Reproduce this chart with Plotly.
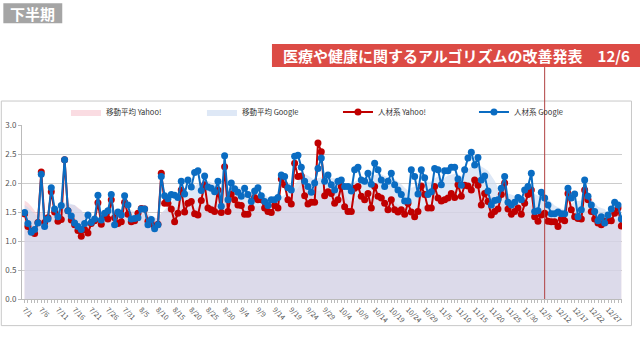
import plotly.graph_objects as go

# ---- categories (daily dates, a few days missing in the source) ----
month_lengths = [(7, 31), (8, 31), (9, 30), (10, 31), (11, 30), (12, 31)]
skipped_dates = ["11/3", "11/4", "12/9", "12/10"]
dates = [f"{m}/{d}" for m, n in month_lengths for d in range(1, n + 1)
         if f"{m}/{d}" not in skipped_dates]

tick_labels = ["7/1", "7/6", "7/11", "7/16", "7/21", "7/26", "7/31", "8/5", "8/10",
               "8/15", "8/20", "8/25", "8/30", "9/4", "9/9", "9/14", "9/19", "9/24",
               "9/29", "10/4", "10/9", "10/14", "10/19", "10/24", "10/29", "11/5",
               "11/10", "11/15", "11/20", "11/25", "11/30", "12/5", "12/12", "12/17",
               "12/22", "12/27"]

event_date = "12/6"
event_text = "医療や健康に関するアルゴリズムの改善発表　12/6"
period_label = "下半期"

# ---- series values ----
yahoo = [1.47, 1.25, 1.17, 1.13, 1.32, 2.19, 1.32, 1.40, 1.85, 1.50,
         1.34, 1.37, 2.40, 1.52, 1.36, 1.28, 1.18, 1.08, 1.20, 1.14,
         1.30, 1.35, 1.66, 1.29, 1.42, 1.38, 1.71, 1.40, 1.30, 1.33,
         1.67, 1.46, 1.33, 1.35, 1.48, 1.56, 1.55, 1.34, 1.30, 1.25,
         1.29, 2.17, 1.65, 1.65, 1.55, 1.33, 1.48, 1.88, 1.50, 1.65,
         1.68, 1.47, 1.45, 1.70, 1.97, 1.57, 1.54, 1.51, 1.88, 1.49,
         2.28, 1.51, 1.81, 1.71, 1.62, 1.61, 1.46, 1.46, 1.57, 1.75,
         1.71, 1.71, 1.57, 1.51, 1.49, 1.61, 1.57, 2.07, 1.97, 1.71,
         1.64, 2.34, 2.11, 2.12, 1.78, 1.64, 1.67, 1.67, 2.69, 2.54,
         1.78, 1.85, 1.82, 1.65, 1.71, 1.94, 1.59, 1.51, 1.51, 1.91,
         1.94, 1.77, 1.71, 1.82, 1.57, 1.94, 1.77, 1.74, 1.65, 1.54,
         1.71, 1.54, 1.50, 1.54, 1.46, 1.65, 1.50, 1.42, 1.51, 1.95,
         1.80, 1.57, 1.57, 1.94, 1.74, 1.69, 1.71, 1.74, 1.82, 1.75,
         1.97, 1.77, 1.96, 1.95, 1.88, 2.05, 1.96, 1.62, 1.82, 1.68,
         1.45, 1.51, 1.55, 1.80, 2.00, 1.55, 1.46, 1.51, 1.57, 1.46,
         1.65, 1.80, 1.88, 1.42, 1.34, 1.45, 1.48, 1.34, 1.33, 1.33,
         1.25, 1.38, 1.35, 1.82, 1.54, 1.42, 1.39, 1.38, 1.88, 1.71,
         1.51, 1.38, 1.31, 1.28, 1.34, 1.35, 1.35, 1.48, 1.57, 1.26]

google = [1.49, 1.30, 1.15, 1.20, 1.31, 2.15, 1.25, 1.38, 1.92, 1.55,
          1.42, 1.61, 2.40, 1.52, 1.43, 1.31, 1.25, 1.20, 1.30, 1.45,
          1.32, 1.38, 1.79, 1.36, 1.48, 1.52, 1.80, 1.28, 1.50, 1.45,
          1.78, 1.62, 1.38, 1.39, 1.40, 1.55, 1.55, 1.28, 1.37, 1.21,
          1.28, 2.11, 1.78, 1.73, 1.80, 1.79, 1.75, 2.03, 1.81, 2.05,
          1.93, 2.18, 2.21, 1.87, 2.12, 1.93, 1.91, 1.85, 2.03, 1.60,
          2.47, 1.71, 2.00, 1.90, 1.84, 1.77, 1.91, 1.80, 1.68, 1.86,
          1.92, 1.78, 1.68, 1.61, 1.71, 1.71, 1.75, 2.14, 2.11, 1.92,
          1.88, 2.46, 2.48, 2.27, 2.03, 1.94, 1.84, 2.00, 2.25, 2.43,
          2.03, 2.14, 1.97, 1.88, 2.03, 2.05, 1.94, 1.94, 1.86, 2.23,
          2.27, 2.05, 2.03, 2.17, 1.98, 2.34, 2.23, 2.05, 1.94, 2.03,
          2.17, 1.97, 1.88, 1.80, 1.69, 1.69, 2.23, 2.11, 1.81, 2.23,
          2.09, 1.80, 1.85, 2.25, 2.23, 1.97, 2.21, 2.21, 2.27, 2.27,
          2.07, 1.96, 2.23, 2.43, 2.53, 2.31, 2.44, 2.05, 2.12, 1.86,
          1.62, 1.70, 1.71, 1.91, 2.11, 1.67, 1.62, 1.67, 1.75, 1.71,
          1.88, 1.94, 2.17, 1.51, 1.52, 1.84, 1.74, 1.62, 1.47, 1.47,
          1.50, 1.47, 1.47, 1.91, 1.74, 1.81, 1.42, 1.54, 2.05, 1.77,
          1.62, 1.51, 1.35, 1.42, 1.31, 1.45, 1.55, 1.67, 1.62, 1.38]

yahoo_ma = [1.70, 1.66, 1.60, 1.52, 1.45, 1.50, 1.47, 1.40, 1.48, 1.54,
            1.56, 1.57, 1.63, 1.62, 1.62, 1.62, 1.57, 1.53, 1.43, 1.28,
            1.25, 1.25, 1.28, 1.29, 1.34, 1.38, 1.44, 1.44, 1.41, 1.40,
            1.43, 1.42, 1.43, 1.41, 1.42, 1.45, 1.48, 1.44, 1.42, 1.40,
            1.39, 1.49, 1.51, 1.53, 1.56, 1.56, 1.59, 1.67, 1.58, 1.58,
            1.58, 1.55, 1.59, 1.62, 1.66, 1.61, 1.62, 1.60, 1.66, 1.64,
            1.68, 1.67, 1.70, 1.67, 1.69, 1.71, 1.63, 1.62, 1.60, 1.60,
            1.60, 1.61, 1.60, 1.61, 1.62, 1.62, 1.60, 1.65, 1.69, 1.72,
            1.74, 1.84, 1.91, 1.99, 1.96, 1.94, 1.90, 1.90, 1.86, 1.87,
            1.86, 1.90, 1.93, 1.94, 1.95, 1.94, 1.81, 1.71, 1.68, 1.69,
            1.73, 1.74, 1.71, 1.74, 1.76, 1.81, 1.78, 1.76, 1.74, 1.72,
            1.71, 1.68, 1.63, 1.60, 1.56, 1.56, 1.54, 1.52, 1.51, 1.57,
            1.61, 1.60, 1.61, 1.65, 1.69, 1.73, 1.71, 1.71, 1.77, 1.77,
            1.78, 1.80, 1.84, 1.86, 1.87, 1.91, 1.93, 1.88, 1.89, 1.84,
            1.77, 1.73, 1.66, 1.63, 1.64, 1.62, 1.62, 1.63, 1.63, 1.62,
            1.57, 1.58, 1.62, 1.60, 1.58, 1.57, 1.55, 1.53, 1.46, 1.39,
            1.37, 1.37, 1.35, 1.40, 1.41, 1.42, 1.44, 1.44, 1.51, 1.53,
            1.55, 1.52, 1.51, 1.48, 1.46, 1.38, 1.34, 1.36, 1.38, 1.37]

google_ma = [1.62, 1.58, 1.52, 1.47, 1.42, 1.48, 1.45, 1.40, 1.47, 1.53,
             1.57, 1.60, 1.67, 1.66, 1.64, 1.62, 1.56, 1.53, 1.46, 1.33,
             1.32, 1.33, 1.38, 1.40, 1.43, 1.46, 1.52, 1.50, 1.49, 1.49,
             1.54, 1.56, 1.53, 1.51, 1.51, 1.53, 1.56, 1.48, 1.44, 1.40,
             1.38, 1.48, 1.54, 1.60, 1.67, 1.74, 1.79, 1.86, 1.84, 1.85,
             1.88, 1.93, 1.99, 2.01, 2.02, 2.04, 2.01, 1.98, 1.99, 1.90,
             1.96, 1.93, 1.94, 1.94, 1.94, 1.92, 1.86, 1.86, 1.84, 1.85,
             1.85, 1.82, 1.80, 1.75, 1.74, 1.74, 1.72, 1.76, 1.80, 1.83,
             1.87, 1.96, 2.06, 2.14, 2.15, 2.13, 2.09, 2.05, 2.08, 2.10,
             2.09, 2.09, 2.09, 2.08, 2.07, 2.05, 2.00, 1.99, 1.98, 2.02,
             2.05, 2.05, 2.06, 2.11, 2.12, 2.14, 2.16, 2.15, 2.12, 2.10,
             2.09, 2.07, 2.02, 1.98, 1.92, 1.87, 1.92, 1.94, 1.93, 1.99,
             2.03, 2.02, 2.02, 2.08, 2.11, 2.07, 2.09, 2.13, 2.14, 2.16,
             2.15, 2.12, 2.17, 2.24, 2.28, 2.29, 2.32, 2.29, 2.25, 2.21,
             2.12, 2.04, 1.92, 1.86, 1.86, 1.82, 1.80, 1.78, 1.79, 1.78,
             1.79, 1.80, 1.86, 1.81, 1.78, 1.78, 1.76, 1.74, 1.67, 1.61,
             1.58, 1.56, 1.54, 1.60, 1.64, 1.69, 1.69, 1.70, 1.74, 1.72,
             1.72, 1.65, 1.59, 1.57, 1.55, 1.47, 1.46, 1.49, 1.52, 1.50]

series_names = ["移動平均 Yahoo!", "移動平均 Google", "人材系 Yahoo!", "人材系 Google"]

FONT = "Noto Sans CJK JP, Noto Sans, sans-serif"

fig = go.Figure()
fig.add_trace(go.Scatter(x=dates, y=yahoo_ma, name=series_names[0], mode="lines",
                         fill="tozeroy", fillcolor="rgba(247,196,206,0.6)",
                         line=dict(width=0, color="rgba(247,196,206,0.6)")))
fig.add_trace(go.Scatter(x=dates, y=google_ma, name=series_names[1], mode="lines",
                         fill="tozeroy", fillcolor="rgba(200,216,240,0.6)",
                         line=dict(width=0, color="rgba(200,216,240,0.6)")))
fig.add_trace(go.Scatter(x=dates, y=yahoo, name=series_names[2], mode="lines+markers",
                         line=dict(color="#c00000", width=2),
                         marker=dict(color="#c00000", size=7)))
fig.add_trace(go.Scatter(x=dates, y=google, name=series_names[3], mode="lines+markers",
                         line=dict(color="#0a6cc2", width=2),
                         marker=dict(color="#0a6cc2", size=7)))

ticktext = [d if d in tick_labels else "" for d in dates]

fig.update_xaxes(type="category", categoryorder="array", categoryarray=dates,
                 range=[-0.78, 179.2], tickmode="array", tickvals=dates,
                 ticktext=ticktext, tickangle=45, tickfont=dict(size=7, color="#555"),
                 ticks="outside", ticklen=3, tickcolor="#bbbbbb", showgrid=False,
                 showline=True, linecolor="#bbbbbb", linewidth=1, automargin=False)
fig.update_yaxes(range=[0, 3], dtick=0.5, tickformat=".1f",
                 tickfont=dict(size=8, color="#555"), gridcolor="#cccccc",
                 showline=True, linecolor="#bbbbbb", ticks="outside", ticklen=3,
                 tickcolor="#bbbbbb", zeroline=False, automargin=False)

shapes = [
    # chart frame
    dict(type="rect", xref="paper", yref="paper", x0=-0.0345, x1=1.0158,
         y0=-0.153, y1=1.1377, line=dict(color="#c8c8c8", width=1), layer="below"),
    # event line
    dict(type="line", xref="x", yref="paper", x0=event_date, x1=event_date,
         y0=0, y1=1.333, line=dict(color="#b04040", width=1)),
    # event box
    dict(type="rect", xref="paper", yref="paper", x0=0.4166, x1=1.04,
         y0=1.333, y1=1.465, fillcolor="#dc4b45", line=dict(width=0)),
    # period box
    dict(type="rect", xref="paper", yref="paper", x0=-0.0311, x1=0.0671,
         y0=1.585, y1=1.700, fillcolor="#a5a5a5", line=dict(width=0)),
]

annotations = [
    dict(text=f"<b>{event_text}</b>", xref="paper", yref="paper", x=0.7235, y=1.399,
         xanchor="center", yanchor="middle", showarrow=False,
         font=dict(size=15, color="white", family=FONT)),
    dict(text=f"<b>{period_label}</b>", xref="paper", yref="paper", x=0.018, y=1.6426,
         xanchor="center", yanchor="middle", showarrow=False,
         font=dict(size=15, color="white", family=FONT)),
]

fig.update_layout(
    width=640, height=355,
    margin=dict(l=22, r=18, t=125, b=56, autoexpand=False),
    paper_bgcolor="white", plot_bgcolor="white",
    font=dict(family=FONT),
    shapes=shapes, annotations=annotations,
    legend=dict(orientation="h", x=0.0733, xanchor="left", y=1.0746, yanchor="middle",
                entrywidth=91, entrywidthmode="pixels", traceorder="normal",
                font=dict(size=7.5, color="#333"), bgcolor="rgba(0,0,0,0)"),
    hovermode=False,
)

fig.write_html("out.html", config={"displayModeBar": False, "staticPlot": True},
               post_script="document.body.style.margin='0';document.body.style.overflow='hidden';")
